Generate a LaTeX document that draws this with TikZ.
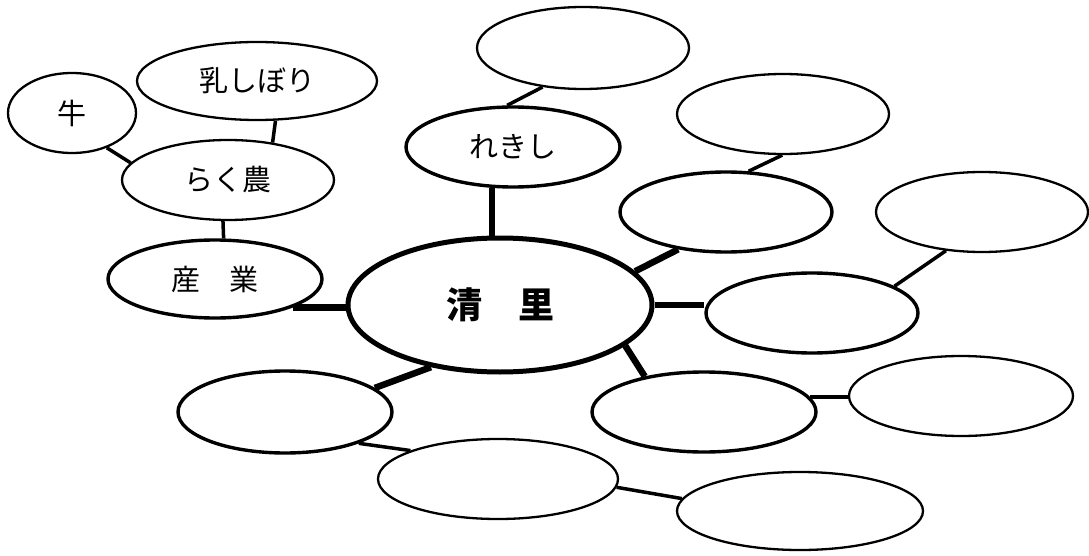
\documentclass[tikz,border=0pt]{standalone}
\usepackage{fontspec}
\setmainfont{Noto Sans CJK JP}
\usetikzlibrary{shapes.geometric}

\begin{document}
\begin{tikzpicture}[x=1pt,y=-1pt,
  bubble/.style={ellipse,draw,fill=white,inner sep=0pt,line width=2.3pt,
    minimum width=212pt,minimum height=80pt,font=\fontsize{29}{29}\selectfont},
  midbubble/.style={bubble,line width=3.4pt},
  core/.style={ellipse,draw,fill=white,inner sep=0pt,line width=5pt,
    minimum width=304pt,minimum height=134pt,font=\fontsize{36}{36}\selectfont\bfseries},
  trunk/.style={line width=6.5pt},
  twig/.style={line width=3.5pt}]

\useasboundingbox (0,0) rectangle (1089,556);

% center and first ring
\node[core] (kiyo) at (500,305) {清　里};
\node[midbubble,minimum width=214pt,minimum height=78pt] (sangyo) at (215,279) {産　業};
\node[midbubble,minimum width=214pt] (reki) at (513,147) {れきし};
\node[midbubble] (e1) at (726,212) {};
\node[midbubble] (e2) at (812,313) {};
\node[midbubble,minimum width=224pt] (e3) at (704,412) {};
\node[midbubble,minimum width=214pt,minimum height=82pt] (e4) at (285,412) {};

% outer ring
\node[bubble] (rakuno) at (228,180) {らく農};
\node[bubble,minimum width=128pt] (ushi) at (72,113) {牛};
\node[bubble,minimum width=240pt,minimum height=78pt] (chichi) at (257,81) {乳しぼり};
\node[bubble,minimum height=82pt] (top) at (583,48) {};
\node[bubble] (e1a) at (783,114) {};
\node[bubble] (e2a) at (982,212) {};
\node[bubble,minimum width=224pt] (e3a) at (961,396) {};
\node[bubble,minimum width=240pt] (e4a) at (498,479) {};
\node[bubble,minimum width=246pt,minimum height=78pt] (e4b) at (800,511) {};

% thick spokes
\draw[trunk] (sangyo.-20) -- (sangyo.-20 -| kiyo.west);
\draw[trunk] (reki.-117) -- (reki.-117 |- kiyo.north);
\draw[trunk] (kiyo.14) -- (e1.-142);
\draw[trunk] (kiyo.east) -- (kiyo.east -| e2.west);
\draw[trunk] (kiyo.-18) -- (e3.149);
\draw[trunk] (kiyo.-138) -- (e4.15);

% thin links
\draw[twig] (ushi.-45) -- (rakuno.170);
\draw[twig] (chichi.-65) -- (rakuno.40);
\draw[twig] (rakuno.-97) -- (sangyo.78);
\draw[twig] (reki.98) -- (top.-136);
\draw[twig] (e1.61) -- (e1a.-91);
\draw[twig] (e2.18) -- (e2a.-133);
\draw[twig] (e3.8) -- (e3.8 -| e3a.west);
\draw[twig] (e4.-23) -- (e4a.162);
\draw[twig] (e4a.-4) -- (e4b.174);

\end{tikzpicture}
\end{document}
